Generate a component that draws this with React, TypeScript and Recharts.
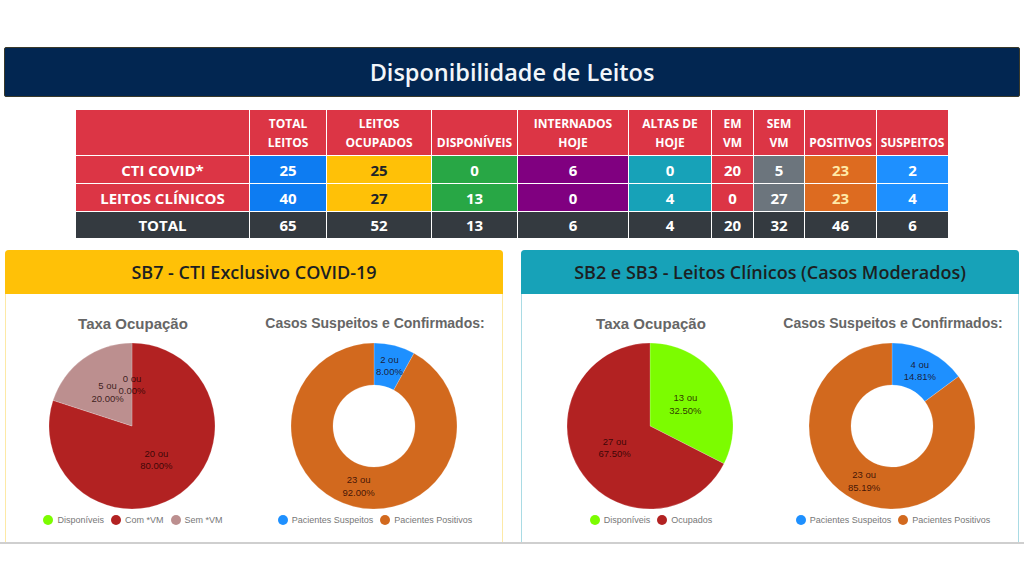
import React from "react";
import { PieChart, Pie, Cell, Legend } from "recharts";

// table
const headerTop = ["TOTAL", "LEITOS", "", "INTERNADOS", "ALTAS DE", "EM", "SEM", "", ""];
const headerBottom = ["LEITOS", "OCUPADOS", "DISPONÍVEIS", "HOJE", "HOJE", "VM", "VM", "POSITIVOS", "SUSPEITOS"];
const rowLabels = ["CTI COVID*", "LEITOS CLÍNICOS", "TOTAL"];
const ctiRow = [25, 25, 0, 6, 0, 20, 5, 23, 2];
const clinicosRow = [40, 27, 13, 0, 4, 0, 27, 23, 4];
const totalRow = [65, 52, 13, 6, 4, 20, 32, 46, 6];

// pies
const ctiOcupacaoNames = ["Disponíveis", "Com *VM", "Sem *VM"];
const ctiOcupacaoValues = [0, 20, 5];
const ctiCasosNames = ["Pacientes Suspeitos", "Pacientes Positivos"];
const ctiCasosValues = [2, 23];
const clinOcupacaoNames = ["Disponíveis", "Ocupados"];
const clinOcupacaoValues = [13, 27];
const clinCasosNames = ["Pacientes Suspeitos", "Pacientes Positivos"];
const clinCasosValues = [4, 23];

const colWidths = [174, 77, 105, 86, 111, 83, 42, 51, 72, 72];
const colColors = ["#0d7cf2", "#ffc107", "#28a745", "#800080", "#17a2b8", "#dc3545", "#6c757d", "#dd6b20", "#1e90ff"];
const colText = ["#fff", "#212529", "#fff", "#fff", "#fff", "#fff", "#fff", "#ffe9a8", "#fff"];

const GREEN = "#7cfc00";
const RED = "#b22222";
const ROSY = "#bc8f8f";
const BLUE = "#1e90ff";
const ORANGE = "#d2691e";

const F = "'Open Sans', 'Noto Sans', sans-serif";
const A = "'Liberation Sans', Arial, sans-serif";

const RAD = Math.PI / 180;

function sliceLabel(props: any) {
  const { cx, cy, midAngle, innerRadius, outerRadius, value, percent } = props;
  const r = (innerRadius + outerRadius) / 2;
  const x = cx + r * Math.cos(-midAngle * RAD);
  const y = cy + r * Math.sin(-midAngle * RAD);
  return (
    <text x={x} y={y} textAnchor="middle" fontSize={9.5} fontFamily={A} fill="rgba(25,0,0,0.8)">
      <tspan x={x} dy={-3}>{value} ou</tspan>
      <tspan x={x} dy={12.5}>{(percent * 100).toFixed(2)}%</tspan>
    </text>
  );
}

function PieBox({ title, titleSize, names, values, colors, inner, left }: any) {
  const data = names.map((n: string, i: number) => ({ name: n, value: values[i] }));
  const legend = () => (
    <div style={{ display: "flex", justifyContent: "center", alignItems: "center", fontFamily: A, fontSize: 9, color: "#777" }}>
      {names.map((n: string, i: number) => (
        <div key={i} style={{ display: "flex", alignItems: "center", marginLeft: i ? 7 : 0 }}>
          <span style={{ width: 10, height: 10, borderRadius: 5, background: colors[i], display: "inline-block", marginRight: 4 }} />
          <span>{n}</span>
        </div>
      ))}
    </div>
  );
  return (
    <div style={{ position: "absolute", left: left - 120, top: 60, width: 240 }}>
      <div style={{ textAlign: "center", fontFamily: A, fontWeight: "bold", fontSize: titleSize, color: "#666", height: 23, lineHeight: "25px" }}>{title}</div>
      <PieChart width={240} height={210}>
        <Pie
          data={data}
          dataKey="value"
          nameKey="name"
          cx={114}
          cy={87}
          innerRadius={inner}
          outerRadius={83}
          startAngle={90}
          endAngle={-270}
          stroke="rgba(255,255,255,0.4)"
          strokeWidth={0.5}
          label={sliceLabel}
          labelLine={false}
          isAnimationActive={false}
        >
          {data.map((_: any, i: number) => (
            <Cell key={i} fill={colors[i]} />
          ))}
        </Pie>
        <Legend content={legend} wrapperStyle={{ position: "absolute", top: 181, left: 0, width: 240 }} />
      </PieChart>
    </div>
  );
}

function Panel({ left, title, titleSize, headColor, borderColor, children }: any) {
  return (
    <div style={{ position: "absolute", left, top: 250, width: 498, height: 293, boxSizing: "border-box", border: `1px solid ${borderColor}`, borderBottom: "none", borderRadius: "4px 4px 0 0", background: "#fff" }}>
      <div style={{ position: "absolute", left: -1, top: -1, width: 498, height: 44, background: headColor, borderRadius: "4px 4px 0 0", textAlign: "center", lineHeight: "44px", fontFamily: F, fontWeight: 600, fontSize: titleSize, color: "#1c1f22" }}>
        {title}
      </div>
      {children}
    </div>
  );
}

export default function App() {
  const rows = [ctiRow, clinicosRow, totalRow];
  const cell = { border: "1px solid #fff", padding: 0, textAlign: "center" as const, fontWeight: 700 };
  return (
    <div style={{ position: "absolute", left: 0, top: 0, width: 1024, height: 583, background: "#fff", overflow: "hidden" }}>
      <div style={{ position: "absolute", left: 4, top: 47, width: 1014, height: 48, background: "#022651", border: "1px solid #3a3a2a", borderRadius: 2, textAlign: "center", lineHeight: "48px", fontFamily: F, fontWeight: 600, fontSize: 23.5, color: "#f2f6fa" }}>
        Disponibilidade de Leitos
      </div>

      <table style={{ position: "absolute", left: 75, top: 109, borderCollapse: "collapse", tableLayout: "fixed", width: 873, fontFamily: F, color: "#fff" }}>
        <colgroup>
          {colWidths.map((w, i) => <col key={i} style={{ width: w }} />)}
        </colgroup>
        <tbody>
          <tr style={{ height: 46, background: "#dc3545" }}>
            <td style={cell}></td>
            {headerBottom.map((h, i) => (
              <td key={i} style={{ ...cell, fontSize: 12, lineHeight: "19px", verticalAlign: "middle", padding: "0 1px", whiteSpace: "nowrap" }}>
                {headerTop[i] || "\u00a0"}<br />{h}
              </td>
            ))}
          </tr>
          {rows.map((r, ri) => (
            <tr key={ri} style={{ height: ri === 2 ? 27 : 28 }}>
              <td style={{ ...cell, background: ri === 2 ? "#343a40" : "#dc3545", fontSize: 15 }}>{rowLabels[ri]}</td>
              {r.map((v, ci) => (
                <td key={ci} style={{ ...cell, fontSize: 15, background: ri === 2 ? "#343a40" : colColors[ci], color: ri === 2 ? "#fff" : colText[ci] }}>{v}</td>
              ))}
            </tr>
          ))}
        </tbody>
      </table>

      <Panel left={5} title="SB7 - CTI Exclusivo COVID-19" titleSize={18} headColor="#ffc107" borderColor="#fde9a6">
        <PieBox title="Taxa Ocupação" titleSize={15} names={ctiOcupacaoNames} values={ctiOcupacaoValues} colors={[GREEN, RED, ROSY]} inner={0} left={127} />
        <PieBox title="Casos Suspeitos e Confirmados:" titleSize={14} names={ctiCasosNames} values={ctiCasosValues} colors={[BLUE, ORANGE]} inner={41} left={369} />
      </Panel>
      <Panel left={521} title="SB2 e SB3 - Leitos Clínicos (Casos Moderados)" titleSize={18} headColor="#17a2b8" borderColor="#a9dbe4">
        <PieBox title="Taxa Ocupação" titleSize={15} names={clinOcupacaoNames} values={clinOcupacaoValues} colors={[GREEN, RED]} inner={0} left={129} />
        <PieBox title="Casos Suspeitos e Confirmados:" titleSize={14} names={clinCasosNames} values={clinCasosValues} colors={[BLUE, ORANGE]} inner={41} left={371} />
      </Panel>

      <div style={{ position: "absolute", left: 0, top: 542, width: 1024, height: 2, background: "#cfcfcf" }} />
    </div>
  );
}
